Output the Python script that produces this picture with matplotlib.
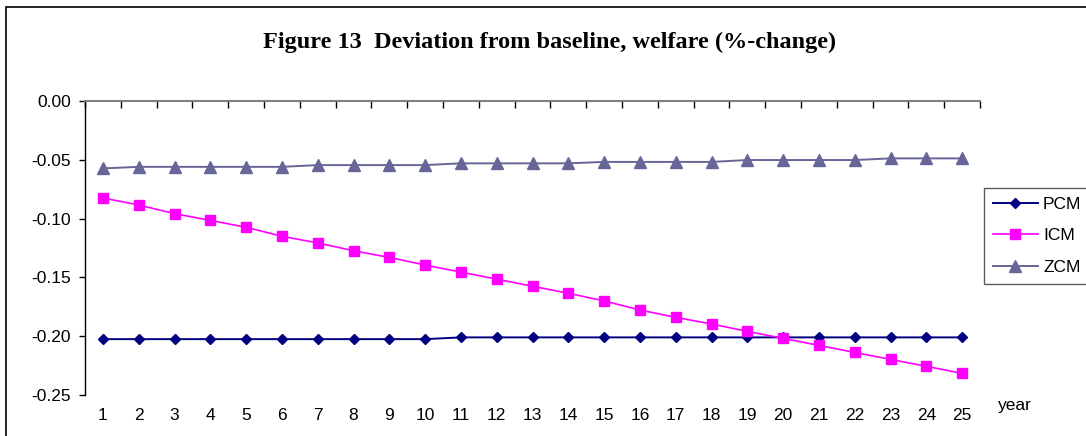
import matplotlib
matplotlib.use("Agg")
import matplotlib.pyplot as plt
from matplotlib.patches import Rectangle

years = list(range(1, 26))
pcm = [-0.2025] * 10 + [-0.201] * 15
icm = [-0.0825, -0.0884, -0.0958, -0.1015, -0.1074, -0.1150, -0.1207, -0.1273,
       -0.1330, -0.1395, -0.1455, -0.1515, -0.1575, -0.1635, -0.1700, -0.1777,
       -0.1840, -0.1896, -0.1959, -0.2018, -0.2078, -0.2138, -0.2197, -0.2256,
       -0.2316]
zcm = [-0.0573] + [-0.0560] * 5 + [-0.0545] * 4 + [-0.0530] * 4 + [-0.0518] * 4 \
      + [-0.0502] * 4 + [-0.0488] * 3
series_names = ["PCM", "ICM", "ZCM"]
title = "Figure 13  Deviation from baseline, welfare (%-change)"
yticks = [0.00, -0.05, -0.10, -0.15, -0.20, -0.25]

W, H = 1086, 436
fig = plt.figure(figsize=(W / 100, H / 100), dpi=100)
plt.rcParams['font.family'] = ['Liberation Sans', 'DejaVu Sans']

# outer frame
fig.patches.append(Rectangle((6 / W, -0.1), 2, 1.1 - 7 / H, transform=fig.transFigure,
                             fill=False, edgecolor='black', linewidth=1.2))

ax = fig.add_axes([85 / W, 1 - 395 / H, 895 / W, 294 / H])
l1, = ax.plot(years, pcm, color='#000080', marker='D', markersize=5.5, linewidth=1.4)
l2, = ax.plot(years, icm, color='#FF00FF', marker='s', markersize=7, linewidth=1.2)
l3, = ax.plot(years, zcm, color='#666699', marker='^', markersize=8.5, linewidth=1.4)

ax.set_xlim(0.5, 25.5)
ax.set_ylim(-0.25, 0.0)
ax.spines['bottom'].set_visible(False)
ax.spines['right'].set_visible(False)
ax.spines['top'].set_color('#808080')
ax.spines['top'].set_linewidth(1.5)
ax.spines['left'].set_color('black')
ax.spines['left'].set_linewidth(1.0)

ax.set_xticks(years)
ax.set_xticklabels([str(y) for y in years])
ax.set_xticks([x + 0.5 for x in range(0, 26)], minor=True)
ax.tick_params(axis='x', which='major', length=0, pad=9, labelsize=12.5)
ax.tick_params(axis='x', which='minor', top=True, bottom=False, direction='in',
               length=5, width=1.0, color='black')
ax.set_yticks(yticks)
ax.set_yticklabels([f"{v:.2f}" for v in yticks])
ax.tick_params(axis='y', which='major', length=4, width=1.0, pad=6, labelsize=12.5)

fig.text(550 / W, 1 - 42 / H, title, ha='center', va='center',
         family='Liberation Serif', fontweight='bold', fontsize=17.5)
fig.text(998 / W, 1 - 405 / H, "year", ha='left', va='center', fontsize=12.5)

leg = fig.legend([l1, l2, l3], series_names, loc='upper left',
                 bbox_to_anchor=(984 / W, 1 - 188 / H), frameon=True, fancybox=False,
                 fontsize=12.5, handlelength=2.6, labelspacing=0.95, borderpad=0.5,
                 handletextpad=0.3, borderaxespad=0)
leg.get_frame().set_edgecolor('#333333')
leg.get_frame().set_linewidth(1.0)

fig.savefig("out.png", dpi=100)
